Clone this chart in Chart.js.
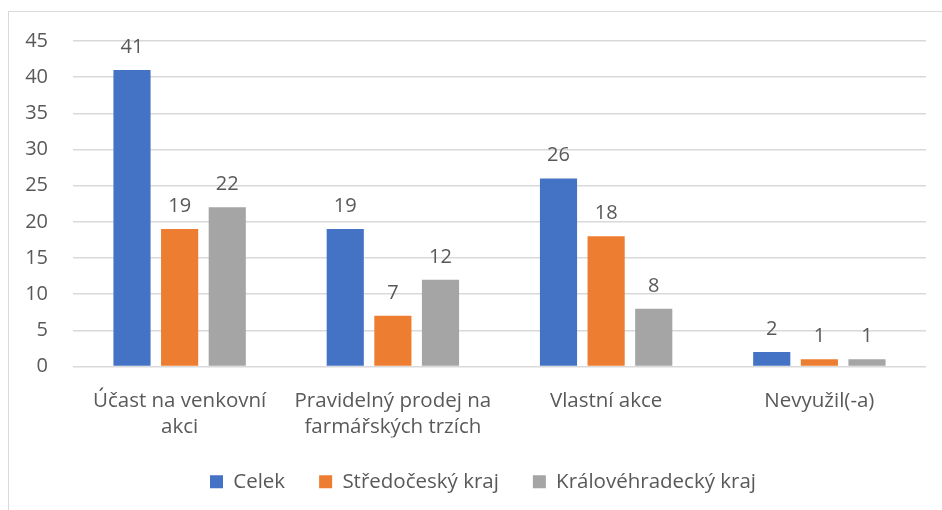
<!DOCTYPE html>
<html>
<head>
<meta charset="utf-8">
<script src="https://cdn.jsdelivr.net/npm/chart.js@4"></script>
<style>
  html, body { margin: 0; padding: 0; background: #fff; }
  .wrap { position: relative; width: 942px; height: 510px; overflow: hidden; }
  .frame { position: absolute; left: 8px; top: 11px; width: 960px; height: 520px; border: 1px solid #d9d9d9; }
  canvas { position: absolute; left: 0; top: 0; }
</style>
</head>
<body>
<div class="wrap">
  <div class="frame"></div>
  <canvas id="chart" width="942" height="510"></canvas>
</div>
<script>
const categories = [
  ['Účast na venkovní', 'akci'],
  ['Pravidelný prodej na', 'farmářských trzích'],
  'Vlastní akce',
  'Nevyužil(-a)'
];
const celek = [41, 19, 26, 2];
const stredocesky = [19, 7, 18, 1];
const kralovehradecky = [22, 12, 8, 1];
const yTicks = [0, 5, 10, 15, 20, 25, 30, 35, 40, 45];

const textColor = '#595959';
const fontFamily = '"Open Sans", "Noto Sans", sans-serif';

// value labels above each bar
const valueLabels = {
  id: 'valueLabels',
  afterDatasetsDraw(chart) {
    const ctx = chart.ctx;
    ctx.save();
    ctx.font = '20px ' + fontFamily;
    ctx.fillStyle = textColor;
    ctx.textAlign = 'center';
    ctx.textBaseline = 'alphabetic';
    chart.data.datasets.forEach((ds, i) => {
      chart.getDatasetMeta(i).data.forEach((bar, j) => {
        ctx.fillText(ds.data[j], bar.x, bar.y - 17);
      });
    });
    ctx.restore();
  }
};

// center the legend under the plot area instead of the whole canvas
const legendUnderPlot = {
  id: 'legendUnderPlot',
  afterLayout(chart) {
    if (chart.legend) {
      chart.legend.left = chart.chartArea.left - 33;
      chart.legend.right = chart.chartArea.right;
    }
  }
};

new Chart(document.getElementById('chart'), {
  type: 'bar',
  data: {
    labels: categories,
    datasets: [
      { label: 'Celek', data: celek, backgroundColor: '#4472C4' },
      { label: 'Středočeský kraj', data: stredocesky, backgroundColor: '#ED7D31' },
      { label: 'Královéhradecký kraj', data: kralovehradecky, backgroundColor: '#A5A5A5' }
    ]
  },
  options: {
    responsive: false,
    animation: false,
    categoryPercentage: 0.67,
    barPercentage: 0.78,
    layout: { padding: { top: 41, left: 0, right: 16, bottom: 8 } },
    plugins: {
      tooltip: { enabled: false },
      legend: {
        position: 'bottom',
        labels: {
          color: textColor,
          font: { family: fontFamily, size: 20.5 },
          boxWidth: 13,
          boxHeight: 13,
          padding: 34
        }
      }
    },
    scales: {
      x: {
        grid: { display: false },
        border: { display: false },
        ticks: {
          color: textColor,
          font: { family: fontFamily, size: 20.5, lineHeight: 1.3 },
          padding: 13,
          maxRotation: 0,
          autoSkip: false
        },
        afterFit(scale) { scale.height = 71; }
      },
      y: {
        min: 0,
        max: 45,
        afterBuildTicks(scale) { scale.ticks = yTicks.map(v => ({ value: v })); },
        grid: { color: '#d9d9d9', lineWidth: 1.5, drawTicks: false },
        border: { display: false },
        ticks: {
          color: textColor,
          font: { family: fontFamily, size: 20 },
          padding: 25
        },
        afterFit(scale) { scale.width = 73; }
      }
    }
  },
  plugins: [valueLabels, legendUnderPlot]
});
</script>
</body>
</html>
